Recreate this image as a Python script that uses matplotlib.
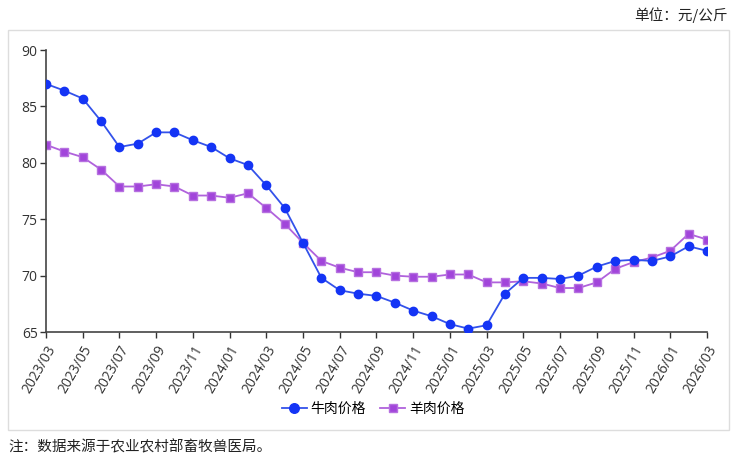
import matplotlib
matplotlib.use("Agg")
from matplotlib import pyplot as plt
from matplotlib.patches import Rectangle

plt.rcParams['font.family'] = ['Noto Sans CJK SC', 'DejaVu Sans']

# 月份 2023/03 - 2026/03
months = ["2023/03", "2023/04", "2023/05", "2023/06", "2023/07", "2023/08", "2023/09",
          "2023/10", "2023/11", "2023/12", "2024/01", "2024/02", "2024/03", "2024/04",
          "2024/05", "2024/06", "2024/07", "2024/08", "2024/09", "2024/10", "2024/11",
          "2024/12", "2025/01", "2025/02", "2025/03", "2025/04", "2025/05", "2025/06",
          "2025/07", "2025/08", "2025/09", "2025/10", "2025/11", "2025/12", "2026/01",
          "2026/02", "2026/03"]

beef = [87.0, 86.4, 85.7, 83.7, 81.4, 81.7, 82.7, 82.7, 82.0, 81.4, 80.4, 79.8,
        78.0, 76.0, 72.9, 69.8, 68.7, 68.4, 68.2, 67.6, 66.9, 66.4, 65.7, 65.3,
        65.6, 68.4, 69.8, 69.8, 69.7, 70.0, 70.8, 71.3, 71.4, 71.3, 71.7, 72.6, 72.2]

mutton = [81.6, 81.0, 80.5, 79.4, 77.9, 77.9, 78.1, 77.9, 77.1, 77.1, 76.9, 77.3,
          76.0, 74.6, 72.9, 71.3, 70.7, 70.3, 70.3, 70.0, 69.9, 69.9, 70.1, 70.1,
          69.4, 69.4, 69.5, 69.3, 68.9, 68.9, 69.4, 70.6, 71.2, 71.6, 72.2, 73.7, 73.2]

fig = plt.figure(figsize=(7.32, 4.61), dpi=100)
ax = fig.add_axes([0.0628, 0.2798, 0.903, 0.6117])

# 外框
fig.patches.append(Rectangle((0.011, 0.067), 0.985, 0.868, transform=fig.transFigure,
                             fill=False, edgecolor="#dddddd", linewidth=1))

x = list(range(len(months)))
ax.plot(x, beef, color="#3352ea", linewidth=1.3, marker="o", markersize=6,
        markerfacecolor="#1434f5", markeredgecolor="#1434f5", label=u"牛肉价格", zorder=3)
ax.plot(x, mutton, color="#b062dc", linewidth=1.3, marker="s", markersize=5.5,
        markerfacecolor="#a145da", markeredgecolor="#b670e0", label=u"羊肉价格", zorder=2)

ax.set_xlim(0, len(months) - 1)
ax.set_ylim(65, 90)
ax.set_yticks([65, 70, 75, 80, 85, 90])
ax.set_xticks(x[::2])
ax.set_xticklabels(months[::2], rotation=60, ha="right", rotation_mode="anchor",
                   family=["Open Sans", "DejaVu Sans"])
for lab in ax.get_yticklabels():
    lab.set_family(["Open Sans", "DejaVu Sans"])
ax.tick_params(axis="both", labelsize=10, colors="#333333", length=4, width=1,
               direction="out")
ax.tick_params(axis="y", pad=2)
for s in ["top", "right"]:
    ax.spines[s].set_visible(False)
for s in ["left", "bottom"]:
    ax.spines[s].set_color("#444444")
    ax.spines[s].set_linewidth(1.2)

ax.legend(loc="center", bbox_to_anchor=(0.495, -0.273), ncol=2, frameon=False,
          fontsize=10, handlelength=1.8, handletextpad=0.3, columnspacing=1.0,
          markerscale=1.15)

fig.text(0.994, 0.968, u"单位：元/公斤", ha="right", va="center", fontsize=10.5, color="#222222")
fig.text(0.012, 0.03, u"注：数据来源于农业农村部畜牧兽医局。", ha="left", va="center",
         fontsize=10.5, color="#222222")

fig.savefig("out.png", dpi=100)
